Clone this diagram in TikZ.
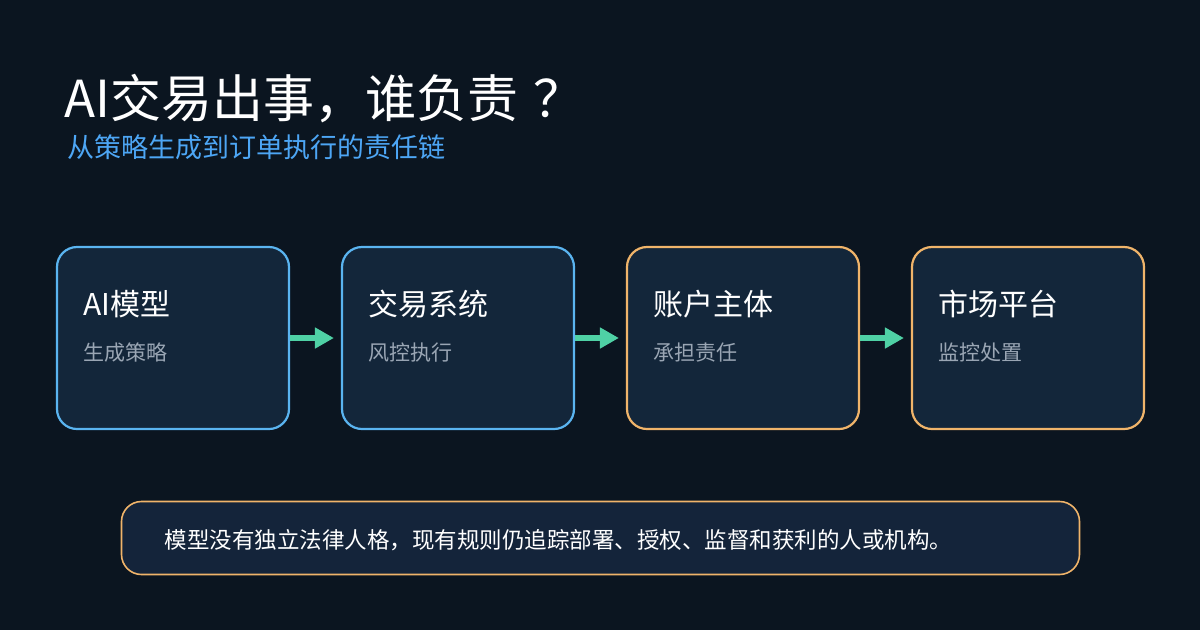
\documentclass[tikz,border=0pt]{standalone}
\usepackage{fontspec}
\setmainfont{Noto Sans CJK SC}
\usetikzlibrary{positioning,arrows.meta}
\definecolor{bgdark}{HTML}{0B1520}
\definecolor{boxfill}{HTML}{13263A}
\definecolor{notefill}{HTML}{14243A}
\definecolor{edgeblue}{HTML}{5AB4F0}
\definecolor{edgeorange}{HTML}{F0B46A}
\definecolor{flowgreen}{HTML}{4FD1A5}
\definecolor{subblue}{HTML}{4DA6F5}
\definecolor{greytext}{HTML}{9AA6B4}
\tikzset{
  stage/.style={draw, line width=2.2pt, fill=boxfill, rounded corners=20pt,
    minimum width=232pt, minimum height=182pt, inner sep=0pt},
  bluestage/.style={stage, draw=edgeblue},
  orangestage/.style={stage, draw=edgeorange},
  head/.style={anchor=west, text=white, font=\fontsize{30}{34}\selectfont},
  sub/.style={anchor=west, text=greytext, font=\fontsize{21}{24}\selectfont},
  flow/.style={draw=flowgreen, line width=6pt,
    -{Triangle[length=19pt,width=20pt,fill=flowgreen]}, shorten >=7pt}
}
\begin{document}
\begin{tikzpicture}[x=1pt,y=-1pt]

  \fill[bgdark] (0,0) rectangle (1200,630);
  \useasboundingbox (0,0) rectangle (1200,630);

  % title
  \node[anchor=base west, text=white, font=\fontsize{51}{56}\selectfont, inner sep=0pt]
    (title) at (64,117) {AI交易出事，谁负责\kern0.3em？};
  \node[anchor=base west, text=subblue, font=\fontsize{27}{30}\selectfont, inner sep=0pt]
    (subtitle) at (67,157) {从策略生成到订单执行的责任链};

  % stages
  \node[bluestage]   (model)   at (173,338) {};
  \node[bluestage]   (system)  at (458,338) {};
  \node[orangestage] (account) at (743,338) {};
  \node[orangestage] (market)  at (1028,338) {};

  \node[head] (modelhead)   at (80,304)  {AI模型};
  \node[sub]  (modelsub)    at (80,353)  {生成策略};
  \node[head] (systemhead)  at (365,304) {交易系统};
  \node[sub]  (systemsub)   at (365,353) {风控执行};
  \node[head] (accounthead) at (650,304) {账户主体};
  \node[sub]  (accountsub)  at (650,353) {承担责任};
  \node[head] (markethead)  at (935,304) {市场平台};
  \node[sub]  (marketsub)   at (935,353) {监控处置};

  \draw[flow] (model.east)   -- (system.west);
  \draw[flow] (system.east)  -- (account.west);
  \draw[flow] (account.east) -- (market.west);

  % note
  \node[draw=edgeorange, line width=1.6pt, fill=notefill, rounded corners=20pt,
    minimum width=958pt, minimum height=73pt, inner sep=0pt] (note) at (600.5,538) {};
  \node[anchor=west, text=white, font=\fontsize{22.5}{26}\selectfont] (notetext) at (161,540)
    {模型没有独立法律人格，现有规则仍追踪部署、授权、监督和获利的人或机构。};

\end{tikzpicture}
\end{document}
